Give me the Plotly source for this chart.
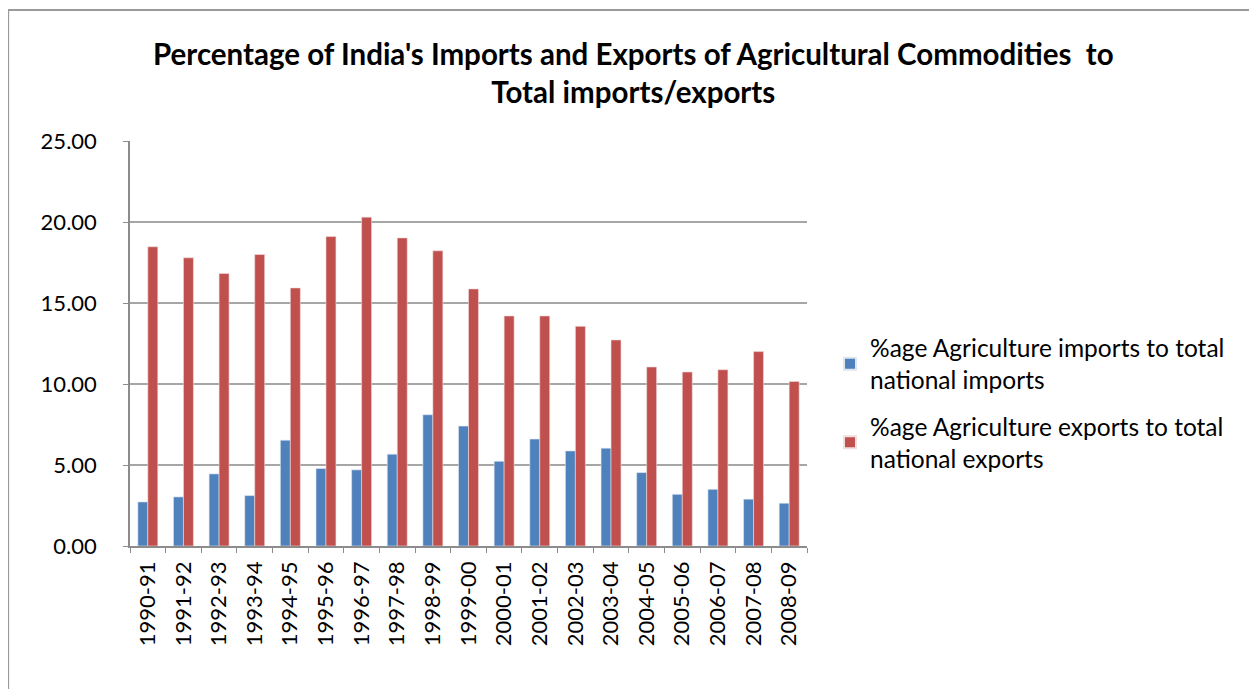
import plotly.graph_objects as go

years = ["1990-91", "1991-92", "1992-93", "1993-94", "1994-95", "1995-96", "1996-97",
         "1997-98", "1998-99", "1999-00", "2000-01", "2001-02", "2002-03", "2003-04",
         "2004-05", "2005-06", "2006-07", "2007-08", "2008-09"]
imports_pct = [2.72, 3.03, 4.45, 3.11, 6.53, 4.78, 4.70, 5.67, 8.10, 7.40,
               5.23, 6.60, 5.87, 6.04, 4.53, 3.19, 3.50, 2.89, 2.64]
exports_pct = [18.47, 17.79, 16.82, 17.99, 15.93, 19.10, 20.30, 19.02, 18.22, 15.87,
               14.20, 14.20, 13.56, 12.72, 11.05, 10.74, 10.88, 12.00, 10.16]
y_ticks = [0, 5, 10, 15, 20, 25]

FONT = "Lato, Open Sans, sans-serif"

fig = go.Figure()
fig.add_trace(go.Bar(x=years, y=imports_pct, legendgroup="imp",
                     name="%age Agriculture imports to total<br>national imports",
                     marker=dict(color="#4F81BD", line=dict(color="#dfe6f0", width=0.6))))
fig.add_trace(go.Bar(x=years, y=exports_pct, legendgroup="exp",
                     name="%age Agriculture exports to total<br>national exports",
                     marker=dict(color="#C0504D", line=dict(color="#f0dede", width=0.6))))

fig.update_layout(
    width=1257, height=689,
    margin=dict(l=122, r=458, t=133, b=151, autoexpand=False),
    paper_bgcolor="white", plot_bgcolor="white",
    barmode="group", bargap=0.44, bargroupgap=0,
    font=dict(family=FONT, color="#000000"),
    annotations=[dict(text="<b>Percentage of India's Imports and Exports of Agricultural Commodities  to<br>Total imports/exports</b>",
                      xref="paper", yref="paper", x=0.744, y=1.265, xanchor="center", yanchor="top",
                      showarrow=False, align="center",
                      font=dict(family=FONT, size=29.5, color="#000000"))],
    legend=dict(x=1.034, y=0.545, xanchor="left", yanchor="top",
                font=dict(family=FONT, size=24.5, color="#000000"),
                tracegroupgap=12, itemsizing="constant", bgcolor="rgba(0,0,0,0)"),
    shapes=[dict(type="rect", xref="paper", yref="paper", x0=-0.180, x1=1.662, y0=-0.6, y1=1.3235,
                 line=dict(color="#9a9a9a", width=2), layer="below")],
    showlegend=True,
)
fig.update_xaxes(type="category", showline=True, linecolor="#8c8c8c", linewidth=1.5, ticks="outside",
                 tickcolor="#8c8c8c", ticklen=5, tickson="boundaries", tickangle=-90,
                 ticklabelstandoff=5,
                 tickfont=dict(family=FONT, size=22, color="#000000"), showgrid=False)
fig.update_yaxes(range=[0, 25], tickvals=y_ticks, tickformat=".2f", showline=True,
                 linecolor="#8c8c8c", linewidth=1.5, ticks="outside", tickcolor="#8c8c8c",
                 ticklen=5, showgrid=True, gridcolor="#a6a6a6", gridwidth=1.5,
                 ticklabelstandoff=22,
                 tickfont=dict(family=FONT, size=22, color="#000000"), zeroline=False)

fig.write_html("out.html")
